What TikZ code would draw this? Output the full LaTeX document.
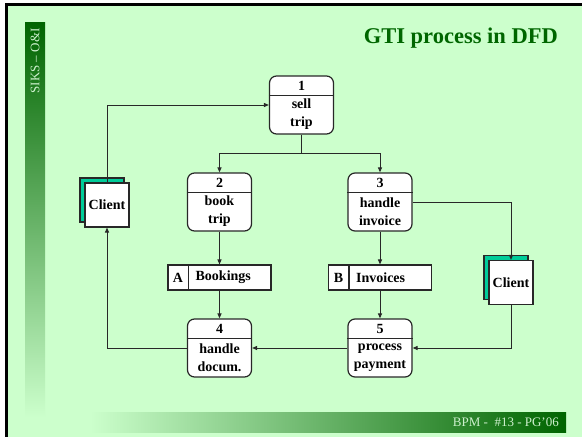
\documentclass[tikz,border=0pt]{standalone}
\usepackage{fontspec}
\setmainfont{Liberation Serif}
\usetikzlibrary{arrows.meta}

\definecolor{slidebg}{RGB}{204,255,204}
\definecolor{dkgreen}{RGB}{0,100,0}
\definecolor{titlegreen}{RGB}{0,102,0}
\definecolor{barmid}{RGB}{140,195,140}
\definecolor{footmid}{RGB}{150,205,150}
\definecolor{palegreen}{RGB}{205,240,205}
\definecolor{clientteal}{RGB}{0,204,153}
\definecolor{linegray}{RGB}{40,40,40}

\tikzset{
  proc/.style={draw=linegray, line width=1.2pt, fill=white, rounded corners=7pt,
    minimum width=64pt, minimum height=58pt, inner sep=0pt},
  store/.style={draw=linegray, line width=1.1pt, fill=white,
    minimum width=103pt, minimum height=25pt, inner sep=0pt},
  clientbox/.style={draw=linegray, line width=1.1pt, fill=white,
    minimum width=44pt, minimum height=44pt, inner sep=0pt},
  clientback/.style={draw=linegray, line width=1.1pt, fill=clientteal,
    minimum width=44pt, minimum height=44pt, inner sep=0pt},
  boxtext/.style={font=\fontsize{14}{18}\selectfont\bfseries, inner sep=0pt, align=center},
  flow/.style={draw=linegray, line width=1pt, -{Triangle[length=5pt,width=4pt]}},
  flowplain/.style={draw=linegray, line width=1pt},
}

% a process: name, x, y, number, label
\newcommand{\dfdproc}[5]{%
  \node (#1) [proc] at (#2,#3) {};
  \draw[linegray, line width=1.1pt] ([yshift=-20pt]#1.north west) -- ([yshift=-20pt]#1.north east);
  \node (#1n) [boxtext] at ([yshift=-10.5pt]#1.north) {#4};
  \node (#1t) [boxtext] at ([yshift=-39pt]#1.north) {#5};
}
% a data store: name, x, y, letter, label
\newcommand{\dfdstore}[5]{%
  \node (#1) [store] at (#2,#3) {};
  \draw[linegray, line width=1.1pt] ([xshift=21pt]#1.north west) -- ([xshift=21pt]#1.south west);
  \node (#1l) [boxtext] at ([xshift=10.5pt]#1.west) {#4};
  \node (#1t) [boxtext, anchor=west] at ([xshift=28pt]#1.west) {#5};
}
% an external entity: name, x, y
\newcommand{\dfdclient}[3]{%
  \node (#1b) [clientback] at (#2-5,#3-5) {};
  \node (#1) [clientbox] at (#2,#3) {};
  \node (#1t) [boxtext] at (#1.center) {Client};
}

\begin{document}
\begin{tikzpicture}[x=1pt, y=-1pt]
  \useasboundingbox (0,0) rectangle (582,437);
  % slide background and frame
  \fill[white] (0,0) rectangle (582,437);
  \fill[slidebg] (6,4) rectangle (582,437);
  \draw[black, line width=2.6pt] (6.5,437) -- (6.5,4.3) -- (582,4.3);

  % side bar and footer bar
  \shade[top color=dkgreen, middle color=barmid, bottom color=slidebg] (25,22) rectangle (45,417);
  \node (sidetext) [rotate=90, text=palegreen, font=\fontsize{13}{15}\selectfont, inner sep=0pt]
    at (35,61) {SIKS – O\&I};
  \shade[left color=slidebg, middle color=footmid, right color=dkgreen] (90,412) rectangle (566,432);
  \node (foottext) [anchor=east, text=palegreen, font=\fontsize{13}{15}\selectfont, inner sep=0pt]
    at (559,422.5) {BPM -~ \#13 - PG’06};

  % title
  \node (title) [anchor=base east, text=titlegreen, font=\fontsize{22.5}{26}\selectfont\bfseries, inner sep=0pt]
    at (558,43) {GTI process in DFD};

  % processes
  \dfdproc{p1}{301.5}{105}{1}{sell\\trip}
  \dfdproc{p2}{219.5}{202}{2}{book\\trip}
  \dfdproc{p3}{380}{202}{3}{handle\\invoice}
  \dfdproc{p4}{219.5}{348}{4}{handle\\docum.}
  \dfdproc{p5}{380}{348}{5}{process\\payment}

  % data stores
  \dfdstore{sA}{219.5}{277.5}{A}{Bookings}
  \dfdstore{sB}{380}{277.5}{B}{Invoices}

  % external entities
  \dfdclient{cl1}{107}{205}
  \dfdclient{cl2}{511}{282.5}

  % data flows
  \coordinate (split) at (301.5,153);
  \draw[flow] (cl1.north) |- (p1.west);
  \draw[flowplain] (p1.south) -- (split);
  \draw[flow] (split) -| (p2.north);
  \draw[flow] (split) -| (p3.north);
  \draw[flow] (p2.south) -- (sA.north);
  \draw[flow] (sA.south) -- (p4.north);
  \draw[flow] (p3.south) -- (sB.north);
  \draw[flow] (sB.south) -- (p5.north);
  \draw[flow] (p3.east) -| (cl2.north);
  \draw[flow] (cl2.south) |- (p5.east);
  \draw[flow] (p5.west) -- (p4.east);
  \draw[flow] (p4.west) -| (cl1.south);
\end{tikzpicture}
\end{document}
